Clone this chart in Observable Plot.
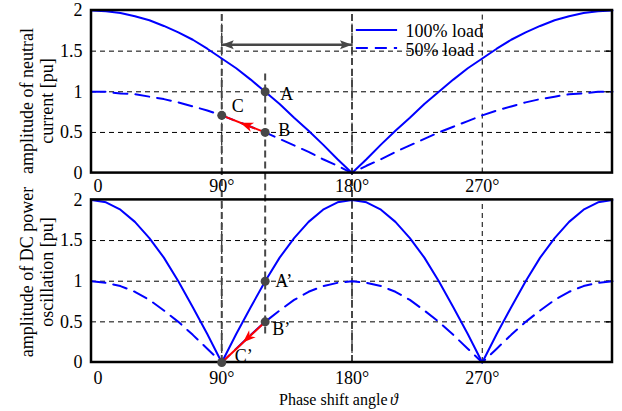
<!DOCTYPE html>
<html>
<head>
<meta charset="utf-8">
<script src="https://cdn.jsdelivr.net/npm/d3@7"></script>
<script src="https://cdn.jsdelivr.net/npm/@observablehq/plot@0.6"></script>
<style>
  html, body { margin: 0; padding: 0; background: #fff; }
</style>
</head>
<body>
<div id="chart"></div>
<script>
// ---------- data ----------
const angles = [0,10,20,30,40,50,60,70,80,90,100,110,120,130,140,150,160,170,180,
                190,200,210,220,230,240,250,260,270,280,290,300,310,320,330,340,350,360];
// top panel: amplitude of neutral current [pu]
const neutral100 = [2.00,1.99,1.97,1.93,1.88,1.81,1.73,1.64,1.53,1.41,1.29,1.15,1.00,0.85,0.68,0.52,0.35,0.17,0.00,
                    0.17,0.35,0.52,0.68,0.85,1.00,1.15,1.29,1.41,1.53,1.64,1.73,1.81,1.88,1.93,1.97,1.99,2.00];
const neutral50  = [1.00,1.00,0.98,0.97,0.94,0.91,0.87,0.82,0.77,0.71,0.64,0.57,0.50,0.42,0.34,0.26,0.17,0.09,0.00,
                    0.09,0.17,0.26,0.34,0.42,0.50,0.57,0.64,0.71,0.77,0.82,0.87,0.91,0.94,0.97,0.98,1.00,1.00];
// bottom panel: amplitude of DC power oscillation [pu]
const dc100 = [2.00,1.97,1.88,1.73,1.53,1.29,1.00,0.68,0.35,0.00,0.35,0.68,1.00,1.29,1.53,1.73,1.88,1.97,2.00,
               1.97,1.88,1.73,1.53,1.29,1.00,0.68,0.35,0.00,0.35,0.68,1.00,1.29,1.53,1.73,1.88,1.97,2.00];
const dc50  = [1.00,0.98,0.94,0.87,0.77,0.64,0.50,0.34,0.17,0.00,0.17,0.34,0.50,0.64,0.77,0.87,0.94,0.98,1.00,
               0.98,0.94,0.87,0.77,0.64,0.50,0.34,0.17,0.00,0.17,0.34,0.50,0.64,0.77,0.87,0.94,0.98,1.00];

const seriesNames = ["100% load", "50% load"];
const xTicks = [0, 90, 180, 270];
const xTickLabels = ["0", "90°", "180°", "270°"];
const yTicks = [0, 0.5, 1, 1.5, 2];
const yTickLabels = ["0", "0.5", "1", "1.5", "2"];
const gridY = [0.5, 1, 1.5];
const gridX = [90, 180, 270];
const panelTitles = ["amplitude of neutral\ncurrent [pu]", "amplitude of DC power\noscillation [pu]"];
const xTitle = "Phase shift angle";
const xTitleSymbol = "ϑ";

// operating points
const pointsTop = [
  {name: "A", angle: 120, value: 1.00},
  {name: "B", angle: 120, value: 0.50},
  {name: "C", angle: 90,  value: 0.71}
];
const pointsBottom = [
  {name: "A’", angle: 120, value: 1.00},
  {name: "B’", angle: 120, value: 0.50},
  {name: "C’", angle: 90,  value: 0.00}
];

// ---------- layout / style ----------
const OFF = 2.33;               // vertical offset of the upper panel on the shared y scale
const blue = "#0000ff";
const grey = "#474747";
const red = "#ff0000";
const font = "'Liberation Serif', 'Times New Roman', Times, serif";

const rows = (panel, values) => values.map((v, i) => ({panel, angle: angles[i], value: v}));
const Y = d => d.value + (d.panel === "top" ? OFF : 0);

const topPts = pointsTop.map(p => ({...p, panel: "top"}));
const botPts = pointsBottom.map(p => ({...p, panel: "bottom"}));
const labelOffsets = {
  "A": [15, 2], "B": [13, -2], "C": [10, -9],
  "A’": [10, 0], "B’": [7, 7], "C’": [13, -6]
};

// arrowhead with its tip at the origin, pointing up
const head = (L, W, notch) => ({
  draw(ctx) {
    ctx.moveTo(0, 0);
    ctx.lineTo(-W, L);
    ctx.lineTo(0, L * notch);
    ctx.lineTo(W, L);
    ctx.closePath();
  }
});

const allYTicks = yTicks.concat(yTicks.map(v => v + OFF));
const yFmt = d => {
  const v = d > 2.1 ? Math.round((d - OFF) * 100) / 100 : d;
  return yTickLabels[yTicks.indexOf(v)];
};

// highlighted (thick, dark) vertical guides
const guides = [
  {angle: 90,  y1: 0,    y2: 2 + OFF},
  {angle: 120, y1: 0.35, y2: 1.24 + OFF},
  {angle: 180, y1: 0,    y2: 2 + OFF}
];
const span = {from: 90, to: 180, value: 1.58};       // double arrow in the upper panel
const redArrows = [
  {from: pointsTop[1], to: pointsTop[2], panel: "top", tip: {angle: 102.8, value: 0.62}, rotate: -69},
  {from: pointsBottom[1], to: pointsBottom[2], panel: "bottom", tip: {angle: 104.6, value: 0.245}, rotate: -133}
];
const legend = [
  {label: seriesNames[0], dash: null,   lineY: 1.76, textY: 1.75},
  {label: seriesNames[1], dash: "12,7", lineY: 1.54, textY: 1.51}
];

const marks = [];
// grid
for (const off of [0, OFF]) {
  marks.push(Plot.ruleY(gridY, {y: d => d + off, x1: 0, x2: 360, stroke: "black", strokeWidth: 1, strokeDasharray: "5,4"}));
  marks.push(Plot.ruleX(gridX, {x: d => d, y1: off, y2: 2 + off, stroke: "black", strokeWidth: 1, strokeDasharray: "5,4"}));
  marks.push(Plot.ruleY(gridY, {y: d => d + off, x1: 355.8, x2: 360, stroke: "black", strokeWidth: 1.5}));
}
// highlighted guides
marks.push(Plot.ruleX(guides, {x: "angle", y1: d => d.y1, y2: d => d.y2, stroke: grey, strokeWidth: 2, strokeDasharray: "7,4"}));
// curves
marks.push(Plot.line(rows("top", neutral100), {x: "angle", y: Y, stroke: blue, strokeWidth: 2}));
marks.push(Plot.line(rows("bottom", dc100), {x: "angle", y: Y, stroke: blue, strokeWidth: 2}));
marks.push(Plot.line(rows("top", neutral50), {x: "angle", y: Y, stroke: blue, strokeWidth: 2, strokeDasharray: "14,8"}));
marks.push(Plot.line(rows("bottom", dc50), {x: "angle", y: Y, stroke: blue, strokeWidth: 2, strokeDasharray: "14,8"}));
// frames
marks.push(Plot.rect([0, OFF], {x1: 0, x2: 360, y1: d => d, y2: d => d + 2, fill: "none", stroke: "black", strokeWidth: 2.5}));
// legend
for (const l of legend) {
  marks.push(Plot.ruleY([l.lineY + OFF], {x1: 183, x2: 211.5, stroke: blue, strokeWidth: 2, strokeDasharray: l.dash}));
}
marks.push(Plot.text(legend, {x: 217, y: d => d.textY + OFF, text: "label", textAnchor: "start", fill: "black"}));
// double arrow
marks.push(Plot.link([span], {x1: "from", x2: "to", y1: d => d.value + OFF, y2: d => d.value + OFF, stroke: grey, strokeWidth: 2.5}));
marks.push(Plot.dot([span], {x: "from", y: d => d.value + OFF, symbol: head(12, 4.5, 0.8), rotate: -90, fill: grey, stroke: "none"}));
marks.push(Plot.dot([span], {x: "to", y: d => d.value + OFF, symbol: head(12, 4.5, 0.8), rotate: 90, fill: grey, stroke: "none"}));
// red arrows
for (const a of redArrows) {
  const off = a.panel === "top" ? OFF : 0;
  marks.push(Plot.link([a], {x1: d => d.from.angle, x2: d => d.to.angle, y1: d => d.from.value + off, y2: d => d.to.value + off, stroke: red, strokeWidth: 2}));
}
// points
marks.push(Plot.dot(topPts.concat(botPts), {x: "angle", y: Y, r: 4.5, fill: grey, stroke: "none"}));
for (const a of redArrows) {
  const off = a.panel === "top" ? OFF : 0;
  marks.push(Plot.dot([a], {x: d => d.tip.angle, y: d => d.tip.value + off, symbol: head(13, 4.8, 0.72), rotate: a.rotate, fill: red, stroke: "none"}));
}
// point labels
for (const p of topPts.concat(botPts)) {
  const [dx, dy] = labelOffsets[p.name];
  marks.push(Plot.text([p], {x: "angle", y: Y, text: "name", textAnchor: "start", dx, dy, fill: "black"}));
}
// y tick labels
marks.push(Plot.axisY(allYTicks, {tickSize: 0, tickPadding: 9, tickFormat: yFmt, label: null}));
// x tick labels (both panels)
const xt = [];
xTicks.forEach((t, i) => { xt.push({angle: t, label: xTickLabels[i], panel: "top"}); xt.push({angle: t, label: xTickLabels[i], panel: "bottom"}); });
marks.push(Plot.text(xt.filter(d => d.angle === 0 && d.panel === "top"), {x: "angle", y: () => OFF, text: "label", textAnchor: "start", dx: 2, dy: 13}));
marks.push(Plot.text(xt.filter(d => d.angle !== 0 && d.panel === "top"), {x: "angle", y: () => OFF, text: "label", dy: 13}));
marks.push(Plot.text(xt.filter(d => d.angle === 0 && d.panel === "bottom"), {x: "angle", y: () => 0, text: "label", textAnchor: "start", dx: 2, dy: 16}));
marks.push(Plot.text(xt.filter(d => d.angle !== 0 && d.panel === "bottom"), {x: "angle", y: () => 0, text: "label", dy: 16}));
// panel titles (rotated)
marks.push(Plot.text(panelTitles, {frameAnchor: "left", y: (d, i) => i === 0 ? 0.886 + OFF : 1.114, text: d => d,
  rotate: -90, textAnchor: "middle", lineAnchor: "middle", dx: -55, lineHeight: 1.1}));
// x title
marks.push(Plot.text([xTitle], {frameAnchor: "bottom", text: d => d, textAnchor: "end", lineAnchor: "middle", dx: 35.5, dy: 37, fontSize: 16}));
marks.push(Plot.text([xTitleSymbol], {frameAnchor: "bottom", text: d => d, textAnchor: "start", lineAnchor: "middle", dx: 38, dy: 37, fontSize: 16, fontStyle: "italic"}));

const chart = Plot.plot({
  width: 622,
  height: 411,
  marginTop: 10,
  marginBottom: 49,
  marginLeft: 91,
  marginRight: 10,
  x: {domain: [0, 360], axis: null},
  y: {domain: [0, 2 + OFF], axis: null},
  style: {fontFamily: font, fontSize: "18px", background: "white", color: "black", overflow: "visible"},
  marks
});
document.getElementById("chart").appendChild(chart);
</script>
</body>
</html>
